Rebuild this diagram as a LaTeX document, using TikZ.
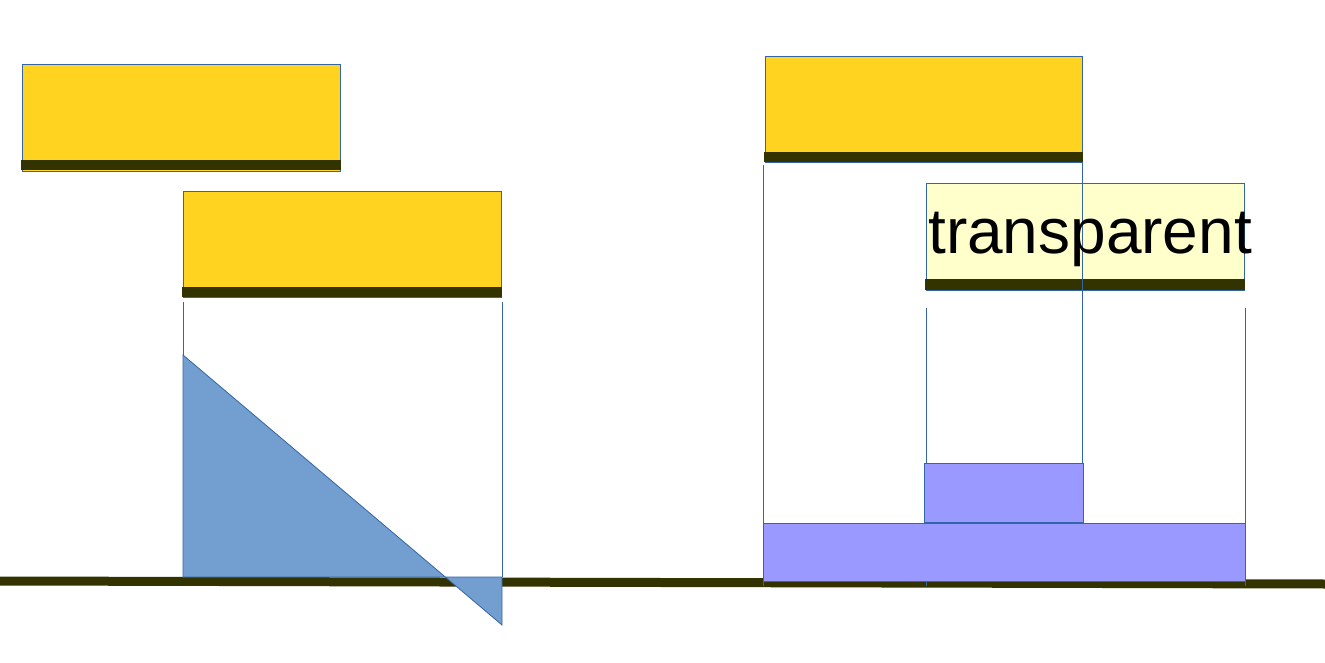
\documentclass[tikz,border=0pt]{standalone}
\usepackage{fontspec}
\setmainfont{Liberation Sans}
\definecolor{yel}{HTML}{FFD320}
\definecolor{barc}{HTML}{333300}
\definecolor{edge}{HTML}{3465A4}
\definecolor{trif}{HTML}{729FCF}
\definecolor{purp}{HTML}{9999FF}
\definecolor{lyel}{HTML}{FFFFCC}
\begin{document}
\begin{tikzpicture}[x=1pt,y=-1pt,
  ground/.style={draw=barc,line width=9pt},
  ybox/.style={fill=yel,draw=edge,line width=0.8pt},
  lbox/.style={fill=lyel,draw=edge,line width=0.8pt},
  bar/.style={fill=barc},
  thin/.style={draw=edge,line width=0.8pt},
  tri/.style={fill=trif,draw=edge,line width=0.8pt},
  pbox/.style={fill=purp,draw=edge,line width=1pt}]
\useasboundingbox (0,0) rectangle (1325,663);
% ground
\draw[ground] (0,581) -- (1325,584);
% left top box
\draw[ybox] (22,64) rectangle (340,171);
\fill[bar] (21,160) rectangle (341,170);
% left second box
\draw[ybox] (183,191) rectangle (501,297);
\fill[bar] (182,287) rectangle (502,297);
\draw[thin] (183,302) -- (183,578);
\draw[thin] (502,302) -- (502,577);
% triangle
\draw[tri] (183,355) -- (502,625) -- (502,577) -- (183,577) -- cycle;
% right top box
\draw[ybox] (765,56) rectangle (1082,162);
\fill[bar] (764,152) rectangle (1083,162);
% transparent box
\draw[lbox] (926,183) rectangle (1244,290);
\fill[bar] (925,279) rectangle (1245,290);
% vertical lines
\draw[thin] (763,165) -- (763,586);
\draw[thin] (1082,162) -- (1082,463);
\draw[thin] (926,308) -- (926,586);
\draw[thin] (1245,308) -- (1245,586);
% purple rects
\draw[pbox] (924,463) rectangle (1083,522);
\draw[pbox] (763,523) rectangle (1245,581);
% label
\node[anchor=base west,inner sep=0pt] (lbl) at (928,254) {\fontsize{64}{72}\selectfont transparent};
\end{tikzpicture}
\end{document}
